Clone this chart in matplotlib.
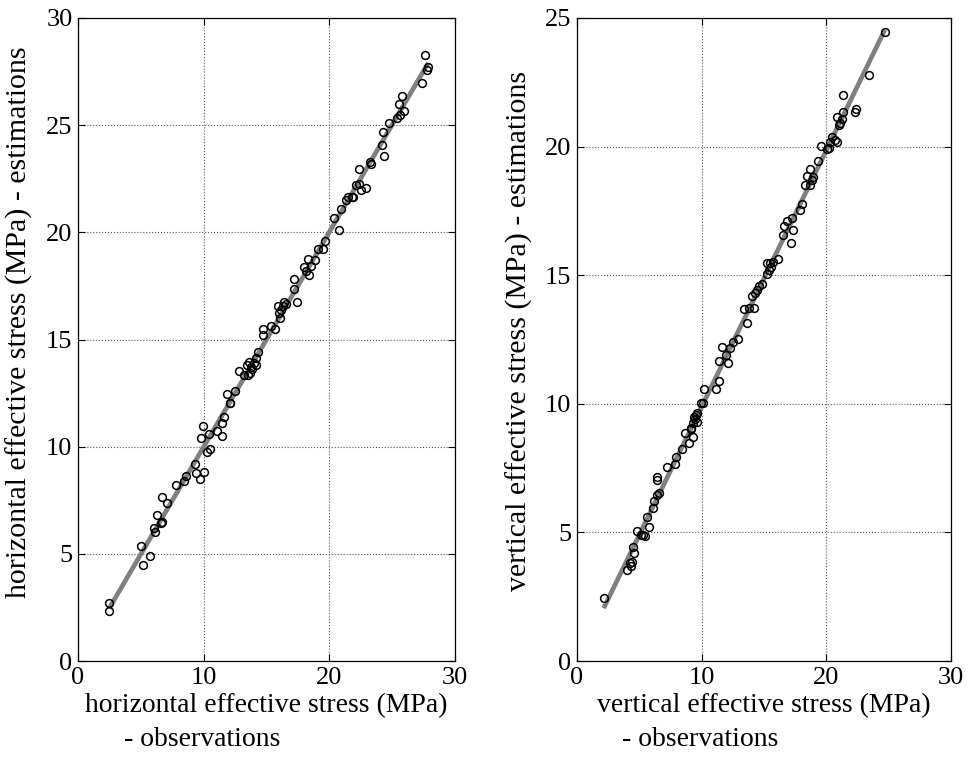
import matplotlib
matplotlib.use('Agg')
import matplotlib.pyplot as plt
import numpy as np

plt.rcParams['font.family'] = ['Liberation Serif', 'DejaVu Serif']

# horizontal effective stress (MPa): observations vs estimations
h_obs = [2.47, 2.47, 4.99, 5.2, 5.7, 6.13, 6.05, 6.26, 6.58, 6.68, 6.66, 7.05, 7.82,
         8.46, 8.59, 9.3, 9.36, 9.7, 10.0, 10.29, 10.5, 9.79, 9.97, 10.45, 11.08,
         11.43, 11.46, 11.64, 11.85, 12.09, 12.13, 12.46, 12.83, 13.2, 13.42, 13.6,
         13.76, 13.87, 13.71, 13.55, 14.0, 14.14, 14.16, 14.3, 14.69, 14.74, 15.33,
         15.67, 15.88, 16.07, 15.99, 16.15, 16.33, 16.41, 16.55, 17.16, 17.18, 17.39,
         17.96, 18.14, 18.4, 18.51, 18.32, 18.83, 19.07, 19.51, 19.65, 20.4, 20.79,
         20.9, 21.32, 21.5, 21.77, 21.9, 22.12, 22.33, 22.49, 22.89, 22.33, 23.23,
         23.29, 24.16, 24.37, 24.29, 24.72, 25.35, 25.62, 25.94, 25.56, 25.75, 27.34,
         27.74, 27.87, 27.6]
h_est = [2.72, 2.35, 5.37, 4.48, 4.91, 6.02, 6.2, 6.81, 6.45, 6.5, 7.65, 7.39, 8.23,
         8.38, 8.65, 9.18, 8.76, 8.49, 8.8, 9.74, 9.88, 10.39, 10.95, 10.59, 10.73,
         10.51, 11.12, 11.37, 12.46, 12.02, 12.05, 12.61, 13.53, 13.33, 13.83, 13.94,
         13.7, 13.61, 13.45, 13.36, 13.89, 14.14, 13.8, 14.43, 15.48, 15.23, 15.62,
         15.48, 16.58, 16.02, 16.22, 16.38, 16.57, 16.74, 16.64, 17.81, 17.37, 16.77,
         18.37, 18.21, 18.01, 18.43, 18.74, 18.71, 19.24, 19.23, 19.61, 20.66, 20.11,
         21.11, 21.51, 21.64, 21.67, 21.64, 22.21, 22.24, 21.98, 22.06, 22.97, 23.27,
         23.2, 24.08, 23.56, 24.7, 25.09, 25.32, 25.48, 25.68, 25.99, 26.37, 26.99,
         27.58, 27.73, 28.28]

# vertical effective stress (MPa): observations vs estimations
v_obs = [2.14, 4.04, 4.3, 4.44, 4.25, 4.6, 4.47, 4.79, 5.13, 5.32, 5.48, 5.77, 5.64,
         6.12, 6.2, 6.44, 6.6, 6.39, 6.41, 7.24, 7.83, 7.94, 8.39, 9.01, 9.33, 8.66,
         9.11, 9.33, 9.6, 9.14, 9.44, 9.38, 9.6, 9.52, 9.92, 10.13, 10.18, 11.15,
         11.39, 11.39, 11.63, 11.97, 12.13, 12.3, 12.53, 12.88, 13.61, 13.42, 13.79,
         14.19, 14.03, 14.3, 14.46, 14.62, 14.86, 15.26, 15.42, 15.53, 15.48, 15.26,
         15.69, 16.09, 16.54, 17.13, 17.34, 16.6, 16.82, 17.22, 17.88, 18.02, 18.28,
         18.68, 18.82, 18.95, 18.42, 18.68, 19.35, 19.54, 20.02, 20.23, 20.29, 20.87,
         20.69, 20.42, 21.03, 21.09, 21.22, 20.82, 21.36, 22.32, 22.37, 21.31, 23.44,
         24.7]
v_est = [2.44, 3.54, 3.71, 3.84, 3.8, 4.19, 4.44, 5.07, 4.9, 4.9, 4.87, 5.22, 5.61,
         5.94, 6.22, 6.45, 6.52, 7.17, 7.04, 7.55, 7.66, 7.92, 8.23, 8.46, 8.7, 8.88,
         9.05, 9.24, 9.3, 9.01, 9.4, 9.5, 9.65, 9.56, 10.02, 10.04, 10.56, 10.59,
         10.9, 11.66, 12.22, 11.9, 11.57, 12.16, 12.41, 12.52, 13.13, 13.69, 13.71,
         13.71, 14.19, 14.3, 14.42, 14.58, 14.65, 15.04, 15.2, 15.33, 15.46, 15.49,
         15.53, 15.62, 16.58, 16.24, 16.76, 16.91, 17.12, 17.21, 17.53, 17.77, 18.51,
         18.51, 18.7, 18.83, 18.86, 19.12, 19.45, 20.02, 19.89, 19.96, 20.19, 20.19,
         20.26, 20.36, 20.84, 20.91, 21.06, 21.16, 21.33, 21.36, 21.46, 22.0, 22.78,
         24.47]

panels = [
    dict(obs=h_obs, est=h_est, ylim=30, yticks=[0, 5, 10, 15, 20, 25, 30],
         xlabel='horizontal effective stress (MPa)',
         ylabel='horizontal effective stress (MPa) - estimations',
         rect=[0.0801, 0.1291, 0.3871, 0.8472], ylab_xy=(-0.119, 0.527)),
    dict(obs=v_obs, est=v_est, ylim=25, yticks=[0, 5, 10, 15, 20, 25],
         xlabel='vertical effective stress (MPa)',
         ylabel='vertical effective stress (MPa) - estimations',
         rect=[0.5924, 0.1291, 0.3840, 0.8472], ylab_xy=(-0.118, 0.513)),
]

fig = plt.figure(figsize=(9.74, 7.59), dpi=100)

for p in panels:
    ax = fig.add_axes(p['rect'])
    obs = np.array(p['obs'])
    est = np.array(p['est'])

    # least squares fit line, drawn between the extreme observations
    slope, icpt = np.polyfit(obs, est, 1)
    xl = np.array([obs.min(), obs.max()])
    ax.plot(xl, slope * xl + icpt, color='0.5', lw=3.4, solid_capstyle='butt', zorder=2)
    ax.plot(obs, est, 'o', ms=5.6, mfc='none', mec='k', mew=1.1, zorder=3)

    ax.set_xlim(0, 30)
    ax.set_ylim(0, p['ylim'])
    ax.set_xticks([0, 10, 20, 30])
    ax.set_yticks(p['yticks'])
    ax.grid(True, linestyle=':', color='0.35', lw=0.8)
    ax.tick_params(direction='in', top=True, right=True, labelsize=19, length=5, pad=4)
    for s in ax.spines.values():
        s.set_linewidth(0.9)

    ax.set_xlabel(p['xlabel'], fontsize=20, labelpad=3)
    ax.text(0.33, -0.103, '- observations', transform=ax.transAxes,
            ha='center', va='top', fontsize=20)
    ax.set_ylabel(p['ylabel'], fontsize=21.5)
    ax.yaxis.set_label_coords(*p['ylab_xy'])

fig.savefig('out.png', dpi=100)
